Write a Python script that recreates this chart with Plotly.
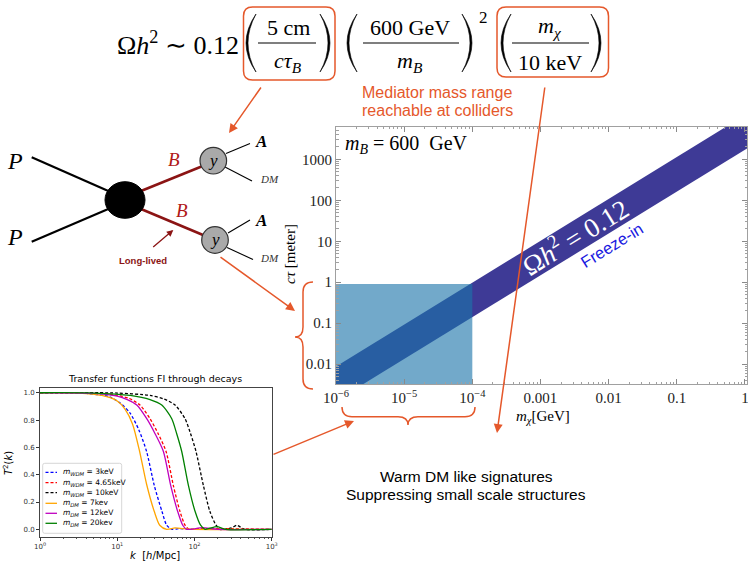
import plotly.graph_objects as go

W, H = 748, 561
SERIF = "Liberation Serif"
SANS = "Liberation Sans"
MPL = "DejaVu Sans"
ORANGE = "#e5582b"
DARKRED = "#8b1414"

# ---------------- main panel data ----------------
band_mchi = [1e-7, 1e1]            # GeV
band_ctau_upper = [8.3e-4, 1.26e5]  # meter
band_ctau_lower = [1.22e-4, 1.78e4]
rect_mchi = [1e-6, 1e-4]
rect_ctau = [1e-3, 0.9]
x_tickvals = [1e-6, 1e-5, 1e-4, 1e-3, 1e-2, 1e-1, 1]
x_ticktext = ["10<sup>−6</sup>", "10<sup>−5</sup>", "10<sup>−4</sup>", "0.001", "0.01", "0.1", "1"]
y_tickvals = [0.01, 0.1, 1, 10, 100, 1000]
y_ticktext = ["0.01", "0.1", "1", "10", "100", "1000"]

# ---------------- inset: transfer functions ----------------
k_wdm3 = [1, 4, 7.9, 11.2, 14.7, 19, 24, 30.2, 38, 43.7, 51, 63, 100, 1000]
t2_wdm3 = [1, 0.995, 0.97, 0.92, 0.85, 0.73, 0.57, 0.32, 0.13, 0.03, 0.0, 0.005, 0.0, 0.0]
k_wdm465 = [1, 6.3, 10, 14.1, 19.7, 26.6, 33.9, 42.9, 53.3, 65, 75.5, 86, 110, 1000]
t2_wdm465 = [1, 0.995, 0.98, 0.96, 0.91, 0.81, 0.70, 0.57, 0.32, 0.13, 0.03, 0.0, 0.005, 0.0]
k_wdm10 = [1, 10, 26.6, 40, 56.1, 75.5, 89.1, 104.7, 130.6, 158.5, 190.5, 214, 300, 353, 447, 1000]
t2_wdm10 = [1, 0.998, 0.98, 0.955, 0.91, 0.81, 0.70, 0.57, 0.32, 0.13, 0.03, 0.0, 0.01, 0.03, 0.0, 0.0]
k_dm7 = [1, 3.16, 6.3, 10, 12.6, 15.8, 19.5, 24, 30.2, 35.5, 43.7, 56, 71, 100, 1000]
t2_dm7 = [1.0, 0.998, 0.98, 0.94, 0.88, 0.77, 0.57, 0.33, 0.13, 0.03, 0.0, 0.01, 0.005, 0.0, 0.0]
k_dm12 = [1, 5, 10, 13.5, 17.9, 24.1, 30.9, 39.6, 49.3, 60.7, 70.5, 79.4, 126, 200, 1000]
t2_dm12 = [1, 0.995, 0.975, 0.95, 0.91, 0.81, 0.70, 0.57, 0.32, 0.13, 0.03, 0.0, 0.012, 0.0, 0.0]
k_dm20 = [1, 5, 14.7, 26.6, 37.7, 50.8, 58.9, 68.4, 83.6, 102, 120, 137, 195, 251, 1000]
t2_dm20 = [1, 0.998, 0.98, 0.95, 0.91, 0.81, 0.70, 0.57, 0.32, 0.13, 0.03, 0.0, 0.02, 0.0, 0.0]

curves = [
    ("<i>m</i><sub><i>WDM</i></sub> = 3keV", k_wdm3, t2_wdm3, "#0000ff", "3px,2px"),
    ("<i>m</i><sub><i>WDM</i></sub> = 4.65keV", k_wdm465, t2_wdm465, "#ff0000", "3px,2px"),
    ("<i>m</i><sub><i>WDM</i></sub> = 10keV", k_wdm10, t2_wdm10, "#000000", "3px,2px"),
    ("<i>m</i><sub><i>DM</i></sub> = 7kev", k_dm7, t2_dm7, "#ffa500", "solid"),
    ("<i>m</i><sub><i>DM</i></sub> = 12keV", k_dm12, t2_dm12, "#bf00bf", "solid"),
    ("<i>m</i><sub><i>DM</i></sub> = 20kev", k_dm20, t2_dm20, "#008000", "solid"),
]
inset_xticks = [1, 10, 100, 1000]
inset_xtext = ["10<sup>0</sup>", "10<sup>1</sup>", "10<sup>2</sup>", "10<sup>3</sup>"]
inset_yticks = [0, 0.2, 0.4, 0.6, 0.8, 1.0]
inset_ytext = ["0.0", "0.2", "0.4", "0.6", "0.8", "1.0"]

fig = go.Figure()

# band and collider rectangle
fig.add_trace(go.Scatter(
    x=band_mchi + band_mchi[::-1], y=band_ctau_upper + band_ctau_lower[::-1],
    fill="toself", fillcolor="#3e3a96", mode="lines", line=dict(width=0),
    xaxis="x", yaxis="y", hoverinfo="skip"))
fig.add_trace(go.Scatter(
    x=[rect_mchi[0], rect_mchi[1], rect_mchi[1], rect_mchi[0]],
    y=[rect_ctau[0], rect_ctau[0], rect_ctau[1], rect_ctau[1]],
    fill="toself", fillcolor="rgba(27,117,170,0.62)", mode="lines", line=dict(width=0),
    xaxis="x", yaxis="y", hoverinfo="skip"))

for name, k, t2, col, dash in curves:
    fig.add_trace(go.Scatter(x=k, y=t2, mode="lines", name=name,
                             line=dict(color=col, width=1.3, dash=dash, shape="spline", smoothing=0.7),
                             xaxis="x2", yaxis="y2", hoverinfo="skip"))

# dummy trace for pixel overlay axes
fig.add_trace(go.Scatter(x=[0], y=[0], mode="markers", marker=dict(opacity=0),
                         xaxis="x3", yaxis="y3", hoverinfo="skip"))

shapes = []
annots = []


def line(x0, y0, x1, y1, color="black", width=2, dash="solid"):
    shapes.append(dict(type="line", xref="x3", yref="y3", x0=x0, y0=y0, x1=x1, y1=y1,
                       line=dict(color=color, width=width, dash=dash)))


def path(d, color="black", width=1.5, fill=None):
    s = dict(type="path", xref="x3", yref="y3", path=d, line=dict(color=color, width=width))
    if fill:
        s["fillcolor"] = fill
    shapes.append(s)


def circle(cx, cy, rx, ry, fill, color="black", width=1):
    shapes.append(dict(type="circle", xref="x3", yref="y3", x0=cx - rx, x1=cx + rx,
                       y0=cy - ry, y1=cy + ry, fillcolor=fill, line=dict(color=color, width=width)))


def txt(x, y, text, size, color="black", family=SERIF, xanchor="center", angle=0):
    annots.append(dict(xref="x3", yref="y3", x=x, y=y, text=text, showarrow=False,
                       font=dict(size=size, color=color, family=family),
                       xanchor=xanchor, yanchor="middle", textangle=angle))


def arrow(tx, ty, hx, hy, color=ORANGE, width=1.5, head=2, size=1.2):
    annots.append(dict(xref="x3", yref="y3", axref="x3", ayref="y3", x=hx, y=hy, ax=tx, ay=ty,
                       text="", showarrow=True, arrowhead=head, arrowsize=size,
                       arrowwidth=width, arrowcolor=color))


def rrect(x0, y0, x1, y1, r, color, width=1.5):
    d = (f"M {x0+r},{y0} L {x1-r},{y0} Q {x1},{y0} {x1},{y0+r} L {x1},{y1-r} Q {x1},{y1} {x1-r},{y1} "
         f"L {x0+r},{y1} Q {x0},{y1} {x0},{y1-r} L {x0},{y0+r} Q {x0},{y0} {x0+r},{y0} Z")
    path(d, color=color, width=width)


def paren(xt, yt, yb, xext, thick, left=True):
    ym = (yt + yb) / 2
    xo = 2 * xext - xt
    xi = 2 * (xext + (thick if left else -thick)) - xt
    d = f"M {xt},{yt} Q {xo},{ym} {xt},{yb} Q {xi},{ym} {xt},{yt} Z"
    path(d, color="black", width=0.6, fill="black")


# ---------------- equation ----------------
txt(177.5, 43, "Ω<i>h</i><sup>2</sup> ∼ 0.12", 26)
# fraction 1
paren(256, 14, 72, 246, 2.0, True)
paren(320, 14, 72, 330, 2.0, False)
txt(288, 27, "5 cm", 22)
line(258, 43, 316, 43, width=1.2)
txt(288, 62, "<i>cτ</i><sub><i>B</i></sub>", 22)
# fraction 2
paren(357, 14, 72, 347, 2.0, True)
paren(462, 14, 72, 472, 2.0, False)
txt(410, 27, "600 GeV", 22)
line(363, 43, 459, 43, width=1.2)
txt(410, 62, "<i>m</i><sub><i>B</i></sub>", 22)
txt(483, 17, "2", 17)
# fraction 3
paren(511, 14, 72, 501, 2.0, True)
paren(591, 14, 72, 601, 2.0, False)
txt(550, 27, "<i>m</i><sub><i>χ</i></sub>", 22)
line(512, 43, 589, 43, width=1.2)
txt(550, 62, "10 keV", 22)
rrect(243.5, 7, 335, 80, 9, ORANGE)
rrect(497, 7, 608.5, 77, 9, ORANGE)

txt(437, 92, "Mediator mass range", 16, color=ORANGE, family=SANS)
txt(437, 110, "reachable at colliders", 16, color=ORANGE, family=SANS)

# ---------------- Feynman diagram ----------------
line(31.7, 157.3, 110, 191.7, width=2.2)
line(31.7, 241.7, 110, 208.3, width=2.2)
line(141, 191, 201.5, 166.5, color=DARKRED, width=2.6)
line(141, 209, 203, 235, color=DARKRED, width=2.6)
circle(125, 200, 20, 18.3, "black")
line(226, 153.5, 250, 143.5, width=1.1)
line(225, 167, 252, 181, width=1.1)
line(228, 233, 250, 220, width=1.1)
line(227, 247.5, 253, 259.5, width=1.1)
circle(213.3, 160.7, 13.3, 13.3, "#a9a9a9", color="#333333", width=1.2)
circle(215, 240, 13.3, 13.3, "#a9a9a9", color="#333333", width=1.2)
txt(213.3, 160, "<i>y</i>", 17)
txt(215, 239.5, "<i>y</i>", 17)
txt(15, 161, "<i>P</i>", 24)
txt(15, 237, "<i>P</i>", 24)
txt(173.5, 159.5, "<i>B</i>", 19, color="#b01818")
txt(181.5, 210, "<i>B</i>", 19, color="#b01818")
txt(261, 141.5, "<b><i>A</i></b>", 17)
txt(261, 220, "<b><i>A</i></b>", 17)
txt(269, 178.5, "<i>DM</i>", 11, color="#333333")
txt(269, 258, "<i>DM</i>", 11, color="#333333")
txt(143, 260.5, "<b>Long-lived</b>", 9.5, color=DARKRED, family=SANS)
arrow(151.7, 248.3, 173.3, 230, color=DARKRED, width=1.3, head=2, size=1.0)

# ---------------- main plot decorations ----------------
txt(406, 144, "<i>m</i><sub><i>B</i></sub> = 600  GeV", 20)
txt(574, 236, "Ω<i>h</i><sup>2</sup> = 0.12", 27, color="white", angle=-31.7)
txt(612, 245, "Freeze-in", 16.5, color="#1a1ae0", family=SANS, angle=-31.7)
txt(290, 254, "<i>cτ</i> [meter]", 15, angle=-90)
txt(543, 417, "<i>m</i><sub><i>χ</i></sub>[GeV]", 15)

# braces
path("M 313,282 Q 303,282 303,292 L 303,327 Q 303,337 295,337 Q 303,337 303,347 "
     "L 303,379 Q 303,389 313,389", color=ORANGE, width=1.5)
path("M 342,407 Q 342,416.7 352,416.7 L 398,416.7 Q 408,416.7 408,425 Q 408,416.7 418,416.7 "
     "L 465,416.7 Q 475,416.7 475,407", color=ORANGE, width=1.5)

# orange arrows
arrow(262, 86, 229, 133)
arrow(219, 256, 295, 311)
arrow(545, 86, 497, 433)
arrow(272, 455, 354, 421)

txt(466, 476, "Warm DM like signatures", 15.5, family=SANS)
txt(466, 494, "Suppressing small scale structures", 15.5, family=SANS)

# ---------------- inset decorations ----------------
txt(155, 378.5, "Transfer functions FI through decays", 9.5, family=MPL)
txt(8, 463, "<i>T</i><sup>2</sup>(<i>k</i>)", 10, family=MPL, angle=-90)
txt(155, 555, "<i>k</i>  [<i>h</i>/Mpc]", 10, family=MPL)
rrect(42.7, 463.3, 121.7, 533.3, 2, "#cccccc", width=0.8)
leg_y = [472.3, 482.7, 492.7, 503.3, 513.3, 523.3]
for (name, k, t2, col, dash), yy in zip(curves, leg_y):
    line(45.5, yy, 57, yy, color=col, width=1.3, dash=dash)
    txt(61, yy, name, 7.5, family=MPL, xanchor="left")

axis_common = dict(showgrid=False, zeroline=False, showline=True, automargin=False)

fig.update_layout(
    width=W, height=H, autosize=False,
    margin=dict(l=0, r=0, t=0, b=0, pad=0, autoexpand=False),
    paper_bgcolor="white", plot_bgcolor="rgba(0,0,0,0)", showlegend=False,
    shapes=shapes, annotations=annots,
    xaxis=dict(type="log", range=[-6.0, 0.03], domain=[336 / W, 747 / W], anchor="y",
               tickmode="array", tickvals=x_tickvals, ticktext=x_ticktext,
               ticks="inside", ticklen=5, tickcolor="#8a8a8a", linecolor="#a0a0a0", linewidth=1,
               mirror="allticks", tickfont=dict(family=SERIF, size=15, color="#222"),
               ticklabeloverflow="allow",
               minor=dict(ticks="inside", ticklen=2.5, tickcolor="#a0a0a0", dtick="D1", showgrid=False),
               **axis_common),
    yaxis=dict(type="log", range=[-2.49, 3.795], domain=[1 - 384.3 / H, 1 - 126.7 / H], anchor="x",
               tickmode="array", tickvals=y_tickvals, ticktext=y_ticktext,
               ticks="inside", ticklen=5, tickcolor="#8a8a8a", linecolor="#a0a0a0", linewidth=1,
               mirror="allticks", tickfont=dict(family=SERIF, size=15, color="#222"),
               minor=dict(ticks="inside", ticklen=2.5, tickcolor="#a0a0a0", dtick="D1", showgrid=False),
               **axis_common),
    xaxis2=dict(type="log", range=[0, 3], domain=[40 / W, 271.7 / W], anchor="y2",
                tickmode="array", tickvals=inset_xticks, ticktext=inset_xtext,
                ticks="outside", ticklen=3, tickcolor="#333", linecolor="#444", linewidth=0.8,
                mirror=True, tickfont=dict(family=MPL, size=7, color="#333"),
                minor=dict(ticks="outside", ticklen=1.5, tickcolor="#555", dtick="D1"),
                **axis_common),
    yaxis2=dict(range=[-0.054, 1.037], domain=[1 - 536.7 / H, 1 - 387.7 / H], anchor="x2",
                tickmode="array", tickvals=inset_yticks, ticktext=inset_ytext,
                ticks="outside", ticklen=3, tickcolor="#333", linecolor="#444", linewidth=0.8,
                mirror=True, tickfont=dict(family=MPL, size=7, color="#333"),
                **axis_common),
    xaxis3=dict(range=[0, W], domain=[0, 1], anchor="y3", visible=False, fixedrange=True,
                automargin=False),
    yaxis3=dict(range=[H, 0], domain=[0, 1], anchor="x3", visible=False, fixedrange=True,
                automargin=False),
)

fig.write_html("out.html", config={"displayModeBar": False},
               post_script="document.body.style.margin='0';document.body.style.overflow='hidden';")
